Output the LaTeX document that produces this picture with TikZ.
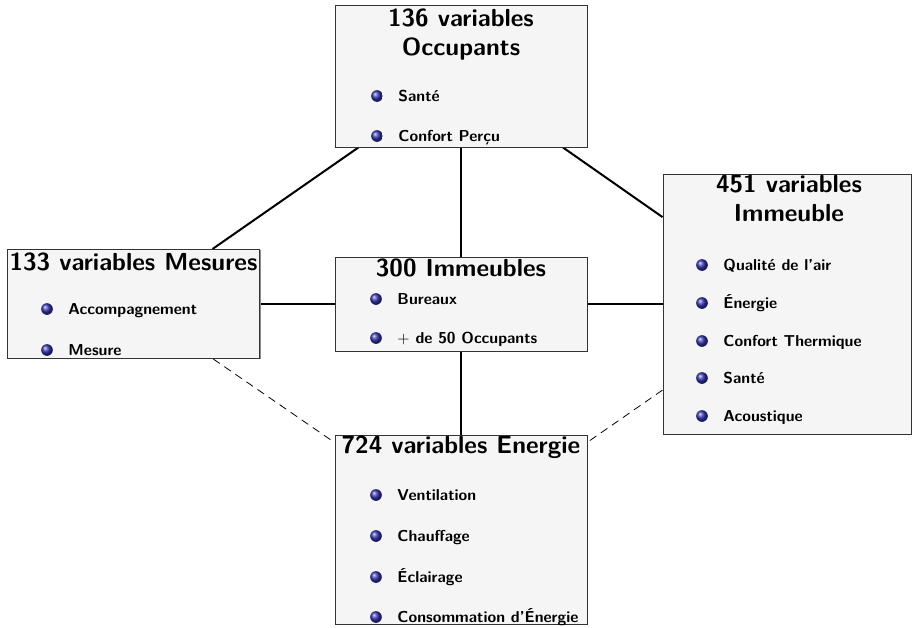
\documentclass[tikz,border=0pt]{standalone}
\usepackage{tikz}
\usetikzlibrary{positioning,shadows,backgrounds}

\definecolor{colorbille}{RGB}{51,51,178}
\definecolor{colorbloc}{RGB}{245,245,245}
\tikzstyle{bloc}=[rectangle, draw=black!80, fill=colorbloc, line width=0.6pt, inner sep=0pt, drop shadow={shadow xshift=0.6pt, shadow yshift=-0.6pt, fill=black!45, opacity=1}]
\tikzstyle{titre}=[font=\sffamily\bfseries\fontsize{15.6}{18}\selectfont, align=center, inner sep=0pt]
\tikzstyle{bille}=[circle, ball color=colorbille, minimum size=7.4pt, inner sep=0pt]
\tikzstyle{libelle}=[font=\sffamily\bfseries\fontsize{10}{12}\selectfont, inner sep=0pt, text height=7.2pt, text depth=0.8pt]
\tikzstyle{lien}=[line width=1.27pt]
\tikzstyle{lienfaible}=[line width=0.5pt, dash pattern=on 5pt off 3.5pt]
\newcommand{\puce}[4]{%
	\node[bille] at (#2, #3) (#1b) {};
	\node[libelle, right=9.5pt of #1b] (#1) {#4};
}

\begin{document}
\begin{tikzpicture}[x=0.633pt, y=-0.633pt]
		\useasboundingbox (0,0) rectangle (913,627);
		
		\node[bloc, minimum width=159.5pt, minimum height=89.9pt] at (461, 76) (occupants) {};
		
		\node[bloc, minimum width=160.1pt, minimum height=69pt] at (133.5, 304) (mesures) {};
		
		\node[bloc, minimum width=159.5pt, minimum height=59.5pt] at (461, 304) (immeubles) {};
		
		\node[bloc, minimum width=157pt, minimum height=164.6pt] at (787, 304) (batiment) {};
		
		\node[bloc, minimum width=159.5pt, minimum height=119.6pt] at (461, 529.5) (energie) {};
		
		\node[titre, anchor=north] at (461, 9) (t-occ) {136 variables\\Occupants};
		\node[titre, anchor=base] at (133.5, 270) (t-mes) {133 variables Mesures};
		\node[titre, anchor=base] at (461, 276) (t-imm) {300 Immeubles};
		\node[titre, anchor=north] at (789, 175) (t-bat) {451 variables\\Immeuble};
		\node[titre, anchor=base] at (461, 453) (t-ene) {724 variables Energie};
		
		\puce{sante}{377}{96}{Santé}
		\puce{confort}{377}{136}{Confort Perçu}
		\puce{accomp}{47}{309}{Accompagnement}
		\puce{mesure}{47}{350}{Mesure}
		\puce{bureaux}{376}{299}{Bureaux}
		\puce{occ50}{376}{338}{$+$ de 50 Occupants}
		\puce{air}{702}{265}{Qualité de l'air}
		\puce{nrj}{702}{303}{Énergie}
		\puce{thermique}{702}{341}{Confort Thermique}
		\puce{santeb}{702}{378}{Santé}
		\puce{acoustique}{702}{416}{Acoustique}
		\puce{ventil}{376}{495}{Ventilation}
		\puce{chauff}{376}{536}{Chauffage}
		\puce{eclair}{376}{577}{Éclairage}
		\puce{conso}{376}{617}{Consommation d'Énergie}
		
		\begin{scope}[on background layer]
		\draw[lien] (occupants) -- (immeubles);
		\draw[lien] (occupants) -- (mesures);
		\draw[lien] (occupants) -- (batiment);
		\draw[lien] (mesures) -- (immeubles);
		\draw[lien] (immeubles) -- (batiment);
		\draw[lien] (immeubles) -- (energie);
		\draw[lienfaible] (mesures) -- (energie);
		\draw[lienfaible] (batiment) -- (energie);
		\end{scope}
		
\end{tikzpicture}
\end{document}
